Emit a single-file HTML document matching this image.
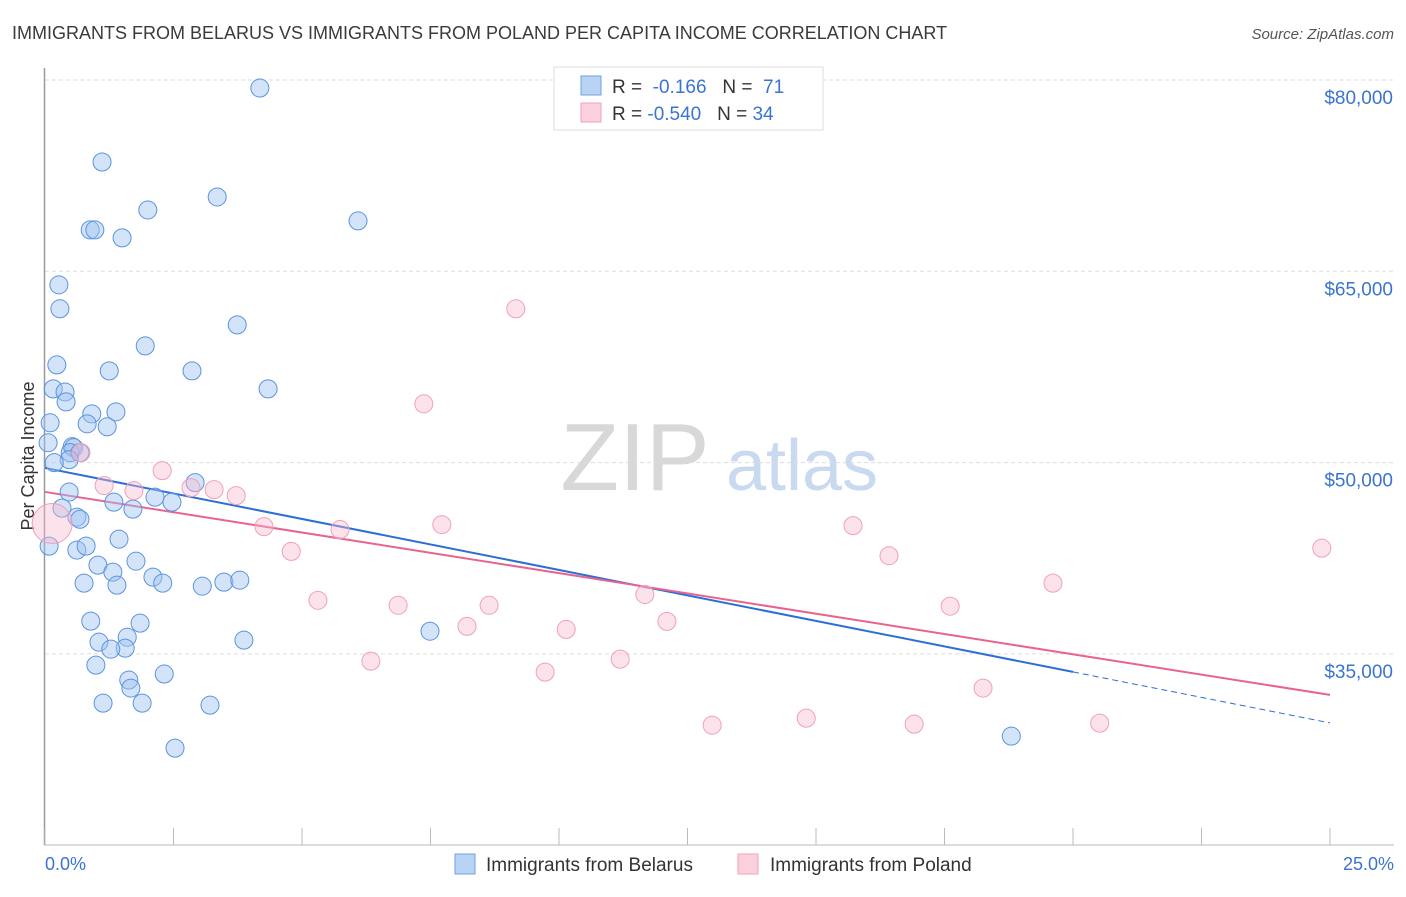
<!DOCTYPE html>
<html><head><meta charset="utf-8"><style>
body{margin:0;background:#fff;font-family:"Liberation Sans",sans-serif}
svg text{font-family:"Liberation Sans",sans-serif}
</style></head><body>
<svg id="chart" width="1406" height="892" xmlns="http://www.w3.org/2000/svg">
<text x="12" y="39" font-size="18" fill="#3a3a3a">IMMIGRANTS FROM BELARUS VS IMMIGRANTS FROM POLAND PER CAPITA INCOME CORRELATION CHART</text>
<text x="1394" y="39" font-size="15" fill="#555" text-anchor="end" font-style="italic">Source: ZipAtlas.com</text>
<g>
<text x="635" y="490" font-size="96" fill="#d8d8d8" text-anchor="middle" font-family="Liberation Serif,serif">ZIP</text>
<text x="802" y="490" font-size="72" fill="#c8d9f0" text-anchor="middle">atlas</text>
</g>
<g id="grid"></g>
<line x1="44.5" y1="68" x2="44.5" y2="845" stroke="#999" stroke-width="1.5"/>
<line x1="44" y1="845" x2="1394" y2="845" stroke="#bbb"/>
<g id="xticks"></g>
<text transform="translate(34,456) rotate(-90)" font-size="18" fill="#333" text-anchor="middle">Per Capita Income</text>
<text x="45" y="870" font-size="18" fill="#3a74d0">0.0%</text>
<text x="1394" y="870" font-size="18" fill="#3a74d0" text-anchor="end">25.0%</text>
<g id="lines"></g>
<g id="points"></g>
<g>
<rect x="554" y="67" width="269" height="63" fill="#fff" stroke="#ddd"/>
<rect x="581" y="76" width="20" height="19" fill="#b9d3f5" stroke="#6f9fe3"/>
<rect x="581" y="103" width="20" height="19" fill="#fbd0dd" stroke="#f0a0b8"/>
<text x="612" y="93" font-size="19" fill="#333">R = <tspan fill="#3a74d0">&#160;-0.166</tspan>&#160;&#160;&#160;N = <tspan fill="#3a74d0">&#160;71</tspan></text>
<text x="612" y="120" font-size="19" fill="#333">R = <tspan fill="#3a74d0">-0.540</tspan>&#160;&#160;&#160;N = <tspan fill="#3a74d0">34</tspan></text>
</g>
<g>
<rect x="455" y="854" width="20" height="20" fill="#b9d3f5" stroke="#6f9fe3"/>
<text x="486" y="871" font-size="19" fill="#333">Immigrants from Belarus</text>
<rect x="738" y="854" width="20" height="20" fill="#fbd0dd" stroke="#f0a0b8"/>
<text x="770" y="871" font-size="19" fill="#333">Immigrants from Poland</text>
</g>
</svg>
<script>
const yTicks=[35000,50000,65000,80000];
const yTickLabels=["$35,000","$50,000","$65,000","$80,000"];
const xTicks=[0,2.5,5,7.5,10,12.5,15,17.5,20,22.5,25];
const belarusX=[4.18,1.11,3.35,2.0,6.09,0.88,0.97,1.5,0.27,0.29,3.74,1.95,0.23,1.25,2.86,0.16,4.34,0.39,0.41,0.91,1.38,0.1,0.82,1.21,0.06,0.53,0.56,0.49,0.68,0.47,0.18,2.92,0.47,0.33,1.34,2.14,2.47,1.71,0.62,0.68,0.08,0.62,0.8,1.44,1.77,1.03,1.32,0.76,2.1,2.29,1.4,3.06,3.48,3.79,0.89,1.85,1.05,1.6,1.56,1.28,0.99,1.63,2.32,1.67,3.87,7.49,1.13,1.89,3.21,2.53,18.8];
const belarusY=[79370,73570,70830,69810,68950,68250,68250,67620,63940,62060,60800,59150,57660,57190,57190,55780,55780,55540,54760,53820,53980,53120,53040,52810,51560,51250,51170,50780,50780,50230,50000,48430,47690,46430,46900,47290,46900,46350,45720,45560,43450,43140,43450,44000,42270,41960,41410,40550,41020,40550,40390,40310,40630,40780,37570,37410,35920,36310,35450,35370,34120,32950,33420,32320,36080,36780,31140,31140,30980,27610,28550];
const polandX=[9.16,7.37,0.7,2.28,2.84,3.29,3.72,1.73,1.15,4.26,5.74,7.72,4.79,5.31,6.87,8.64,8.21,10.14,11.67,12.1,6.34,9.73,11.19,12.98,14.81,16.91,17.61,18.25,19.61,20.52,24.84,15.72,16.42,0.14];
const polandY=[62060,54610,50780,49370,48040,47880,47410,47800,48200,44980,44750,45140,43040,39200,38810,38810,37160,36920,39660,37550,34430,33570,34590,29410,29960,29490,38740,32320,40550,29570,43290,45060,42700,45220];
const belarusR=Array(71).fill(9);
const polandR=Array(34).fill(9); polandR[33]=20;
const belarusTrend=[49580,29590];
const polandTrend=[47700,31784];
const NS="http://www.w3.org/2000/svg";
const xs=v=>45+v/25*1285;
const ys=v=>80+(80000-v)*191.3/15000;
function mk(t,a,p){const e=document.createElementNS(NS,t);for(const k in a)e.setAttribute(k,a[k]);p.appendChild(e);return e;}
const grid=document.getElementById('grid');
yTicks.forEach((t,i)=>{
 const l=mk('line',{x1:45,x2:1394,y1:ys(t),y2:ys(t),stroke:'#ddd','stroke-dasharray':'4,3'},grid);
 
 
 const tx=mk('text',{x:1393,y:ys(t)+24,'font-size':19,fill:'#3a74d0','text-anchor':'end'},grid);
 tx.textContent=yTickLabels[i];
 
 
});
const xt=document.getElementById('xticks');
xTicks.forEach(t=>{
 const l=mk('line',{x1:xs(t),x2:xs(t),y1:828,y2:845,stroke:'#bbb'},xt);
 
 
});
const lg=document.getElementById('lines');
const bEnd=20;
const bAt=x=>belarusTrend[0]+(belarusTrend[1]-belarusTrend[0])*x/25;
let l1=mk('line',{x1:xs(0),y1:ys(bAt(0)),x2:xs(bEnd),y2:ys(bAt(bEnd)),stroke:'#2a6fd6','stroke-width':2},lg);


let l2=mk('line',{x1:xs(bEnd),y1:ys(bAt(bEnd)),x2:xs(25),y2:ys(bAt(25)),stroke:'#2a6fd6','stroke-width':1,'stroke-dasharray':'6,4'},lg);


let l3=mk('line',{x1:xs(0),y1:ys(polandTrend[0]),x2:xs(25),y2:ys(polandTrend[1]),stroke:'#e8648f','stroke-width':2},lg);


const pg=document.getElementById('points');
belarusX.forEach((x,i)=>{
 const c=mk('circle',{cx:xs(x),cy:ys(belarusY[i]),r:belarusR[i],fill:'rgba(160,196,240,0.45)',stroke:'#5b93e0','stroke-width':1},pg);
 
 
});
polandX.forEach((x,i)=>{
 const c=mk('circle',{cx:xs(x),cy:ys(polandY[i]),r:polandR[i],fill:'rgba(248,185,205,0.4)',stroke:'#f0a0b8','stroke-width':1},pg);
 
 
});
</script>
</body></html>
